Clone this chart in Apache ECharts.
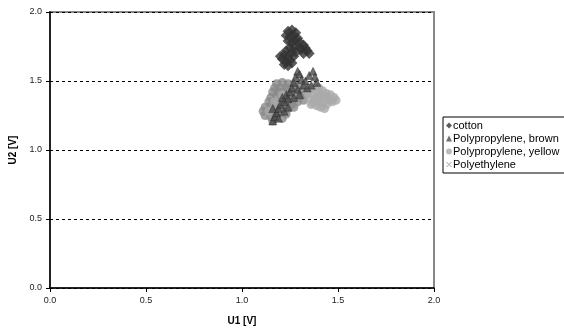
<!DOCTYPE html>
<html>
<head>
<meta charset="utf-8">
<script src="https://cdn.jsdelivr.net/npm/echarts@6/dist/echarts.min.js"></script>
<style>
  html, body { margin: 0; padding: 0; background: #fff; }
  #chart { width: 564px; height: 331px; }
</style>
</head>
<body>
<div id="chart"></div>
<script>
// series names
const names = ['cotton', 'Polypropylene, brown', 'Polypropylene, yellow', 'Polyethylene']
// axis ticks
const ticks = [0, 0.5, 1.0, 1.5, 2.0]

// [U1, U2]
const cotton = [
  [1.24, 1.86], [1.26, 1.87], [1.28, 1.85], [1.23, 1.83], [1.25, 1.82], [1.27, 1.83], [1.29, 1.81],
  [1.24, 1.79], [1.26, 1.78], [1.28, 1.79], [1.30, 1.78], [1.32, 1.76], [1.33, 1.74], [1.34, 1.72],
  [1.31, 1.73], [1.32, 1.70], [1.30, 1.74], [1.35, 1.70], [1.27, 1.75], [1.25, 1.74], [1.23, 1.72],
  [1.26, 1.71], [1.28, 1.71], [1.22, 1.69], [1.24, 1.68], [1.27, 1.68], [1.21, 1.66], [1.23, 1.64],
  [1.25, 1.65], [1.20, 1.68], [1.22, 1.62], [1.24, 1.61], [1.26, 1.63]
]
const ppBrown = [
  [1.16, 1.21], [1.17, 1.24], [1.18, 1.27], [1.16, 1.30], [1.19, 1.30], [1.20, 1.33], [1.22, 1.35],
  [1.21, 1.38], [1.23, 1.40], [1.25, 1.42], [1.24, 1.37], [1.26, 1.45], [1.27, 1.49], [1.28, 1.53],
  [1.29, 1.57], [1.30, 1.55], [1.31, 1.51], [1.32, 1.47], [1.33, 1.50], [1.35, 1.54], [1.37, 1.57],
  [1.38, 1.53], [1.39, 1.49], [1.36, 1.47], [1.34, 1.45], [1.29, 1.44], [1.30, 1.40], [1.27, 1.38],
  [1.22, 1.28], [1.19, 1.23], [1.24, 1.31]
]
const ppYellow = [
  [1.36, 1.44], [1.38, 1.46], [1.40, 1.45], [1.42, 1.43], [1.44, 1.41], [1.46, 1.40], [1.48, 1.38],
  [1.49, 1.36], [1.47, 1.35], [1.45, 1.37], [1.43, 1.39], [1.41, 1.40], [1.39, 1.42], [1.37, 1.40],
  [1.35, 1.38], [1.38, 1.37], [1.40, 1.35], [1.42, 1.34], [1.44, 1.33], [1.46, 1.36], [1.41, 1.31],
  [1.39, 1.32], [1.37, 1.34], [1.43, 1.30], [1.40, 1.38], [1.36, 1.33], [1.34, 1.42], [1.14, 1.28],
  [1.17, 1.35], [1.21, 1.40]
]
const polyethylene = [
  [1.18, 1.48], [1.21, 1.49], [1.24, 1.48], [1.27, 1.47], [1.17, 1.45], [1.20, 1.45], [1.23, 1.45],
  [1.26, 1.44], [1.29, 1.46], [1.16, 1.42], [1.19, 1.42], [1.22, 1.42], [1.25, 1.41], [1.28, 1.42],
  [1.31, 1.43], [1.15, 1.38], [1.18, 1.39], [1.21, 1.38], [1.24, 1.38], [1.27, 1.37], [1.30, 1.39],
  [1.33, 1.40], [1.14, 1.35], [1.17, 1.35], [1.20, 1.34], [1.23, 1.34], [1.26, 1.33], [1.29, 1.35],
  [1.32, 1.36], [1.12, 1.31], [1.15, 1.32], [1.18, 1.31], [1.21, 1.30], [1.24, 1.30], [1.27, 1.31],
  [1.11, 1.28], [1.14, 1.28], [1.17, 1.27], [1.20, 1.27], [1.23, 1.26], [1.12, 1.25], [1.15, 1.24],
  [1.18, 1.24], [1.21, 1.23], [1.16, 1.21]
]

// small x mark for the Polyethylene legend entry
const xPath = 'path://M0,0L2,0L5,3L8,0L10,0L6,4L10,8L8,8L5,5L2,8L0,8L4,4Z'

let myChart = echarts.init(document.getElementById('chart'))
const fontFamily = 'Liberation Sans, Arial, sans-serif'

myChart.setOption({
  animation: false,
  textStyle: { fontFamily: fontFamily },
  grid: {
    left: 49,
    top: 12,
    width: 385,
    height: 276,
    show: true,
    borderColor: '#888',
    borderWidth: 2
  },
  legend: {
    orient: 'vertical',
    left: 443,
    top: 117,
    padding: [3, 30, 3, 3],
    itemWidth: 6,
    itemHeight: 6,
    itemGap: 2,
    borderColor: '#000',
    borderWidth: 1,
    backgroundColor: '#fff',
    itemStyle: { borderWidth: 0 },
    textStyle: { fontSize: 11, color: '#000', padding: [0, 0, 0, -4] },
    data: [
      { name: names[0], icon: 'diamond' },
      { name: names[1], icon: 'triangle' },
      { name: names[2], icon: 'circle' },
      { name: names[3], icon: xPath, itemStyle: { color: '#999' } }
    ]
  },
  xAxis: {
    type: 'value',
    min: ticks[0],
    max: ticks[ticks.length - 1],
    interval: 0.5,
    name: 'U1 [V]',
    nameLocation: 'middle',
    nameGap: 28,
    nameTextStyle: { fontSize: 10, fontWeight: 'bold', color: '#000' },
    axisLine: { lineStyle: { color: '#000', width: 1.5 } },
    axisTick: { show: true, length: 4, lineStyle: { color: '#000' } },
    axisLabel: { fontSize: 9, color: '#222', margin: 8, formatter: v => v.toFixed(1) },
    splitLine: { show: false }
  },
  yAxis: {
    type: 'value',
    min: ticks[0],
    max: ticks[ticks.length - 1],
    interval: 0.5,
    name: 'U2 [V]',
    nameLocation: 'middle',
    nameGap: 32,
    nameTextStyle: { fontSize: 10, fontWeight: 'bold', color: '#000' },
    axisLine: { show: true, lineStyle: { color: '#000', width: 1.5 } },
    axisTick: { show: true, length: 4, lineStyle: { color: '#000' } },
    axisLabel: { fontSize: 9, color: '#222', margin: 8, formatter: v => v.toFixed(1) },
    splitLine: { show: true, lineStyle: { color: '#000', type: [3, 3], width: 1 } }
  },
  series: [
    {
      name: names[0],
      type: 'scatter',
      symbol: 'diamond',
      symbolSize: 11,
      z: 3,
      itemStyle: { color: '#333' },
      data: cotton
    },
    {
      name: names[1],
      type: 'scatter',
      symbol: 'triangle',
      symbolSize: 8,
      z: 5,
      itemStyle: { color: '#4a4a4a', borderColor: '#222', borderWidth: 0.5 },
      data: ppBrown
    },
    {
      name: names[2],
      type: 'scatter',
      symbol: 'circle',
      symbolSize: 9,
      z: 4,
      itemStyle: { color: '#aaa' },
      data: ppYellow
    },
    {
      name: names[3],
      type: 'scatter',
      symbol: 'circle',
      symbolSize: 9,
      z: 2,
      itemStyle: { color: '#8a8a8a' },
      data: polyethylene
    }
  ]
})
</script>
</body>
</html>
